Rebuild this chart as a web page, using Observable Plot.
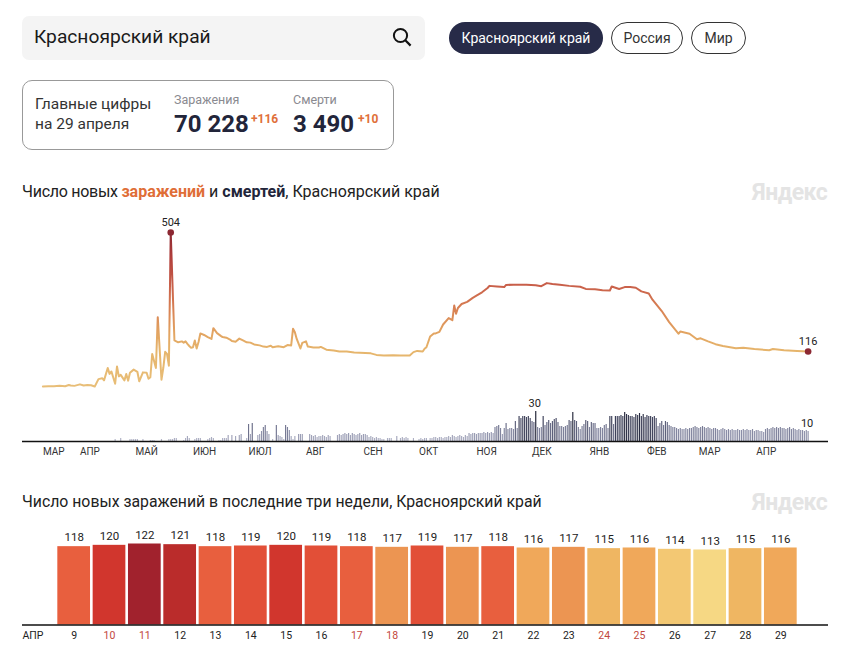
<!DOCTYPE html>
<html lang="ru">
<head>
<meta charset="utf-8">
<script src="https://cdn.jsdelivr.net/npm/d3@7"></script>
<script src="https://cdn.jsdelivr.net/npm/@observablehq/plot@0.6"></script>
<style>
html,body{margin:0;padding:0;background:#fff;}
body{width:861px;height:661px;position:relative;overflow:hidden;font-family:Roboto,"Open Sans",sans-serif;color:#222;}
.a{position:absolute;white-space:nowrap;line-height:1;}
.box{position:absolute;box-sizing:border-box;}
#chartA,#chartB,#chartC{position:absolute;left:0;}
svg{overflow:visible;}
</style>
</head>
<body>
<div class="box" style="left:22px;top:16px;width:403px;height:44px;background:#f4f4f4;border-radius:7px;"></div>
<div class="a" style="left:34px;top:27px;font-size:19.2px;color:#1a1a1a;">Красноярский край</div>
<svg class="box" style="left:392px;top:27px;" width="20" height="20" viewBox="0 0 20 20"><circle cx="8.5" cy="8.5" r="6.6" fill="none" stroke="#111" stroke-width="2"/><line x1="13.3" y1="13.3" x2="18.6" y2="18.6" stroke="#111" stroke-width="2.2"/></svg>

<div class="box" style="left:449px;top:22px;width:154px;height:32px;background:#272b48;border-radius:16px;color:#fff;font-size:14px;line-height:32px;text-align:center;">Красноярский край</div>
<div class="box" style="left:611px;top:22px;width:72px;height:32px;border:1px solid #333;border-radius:16px;color:#333;font-size:14px;line-height:30px;text-align:center;">Россия</div>
<div class="box" style="left:691px;top:22px;width:55px;height:32px;border:1px solid #333;border-radius:16px;color:#333;font-size:14px;line-height:30px;text-align:center;">Мир</div>

<div class="box" style="left:22px;top:80px;width:372px;height:70px;border:1px solid #999;border-radius:10px;"></div>
<div class="a" style="left:35px;top:97px;font-size:15.5px;color:#333;">Главные цифры</div>
<div class="a" style="left:35px;top:117px;font-size:15.5px;color:#333;">на 29 апреля</div>
<div class="a" style="left:174px;top:94px;font-size:12.5px;color:#8a8a90;">Заражения</div>
<div class="a" style="left:174px;top:112px;font-size:24px;font-weight:700;color:#22253a;">70 228</div>
<div class="a" style="left:251px;top:113px;font-size:12px;font-weight:700;color:#e0703a;">+116</div>
<div class="a" style="left:293px;top:94px;font-size:12.5px;color:#8a8a90;">Смерти</div>
<div class="a" style="left:293px;top:112px;font-size:24px;font-weight:700;color:#22253a;">3 490</div>
<div class="a" style="left:358px;top:113px;font-size:12px;font-weight:700;color:#e0703a;">+10</div>

<div class="a" style="left:22px;top:184px;font-size:16px;color:#222;"><span style="letter-spacing:-0.28px;">Число новых </span><b style="color:#df6e37;">заражений</b> и <b style="color:#22253a;">смертей</b>, Красноярский край</div>
<div class="a" style="left:752px;top:181px;font-size:23px;font-weight:700;color:#e4e4e4;letter-spacing:-0.5px;">Яндекс</div>
<div class="a" style="left:22px;top:494px;font-size:15.8px;color:#222;">Число новых заражений в последние три недели, Красноярский край</div>
<div class="a" style="left:752px;top:491px;font-size:23px;font-weight:700;color:#e4e4e4;letter-spacing:-0.5px;">Яндекс</div>

<div id="chartA" style="top:210px;"></div>
<div id="chartB" style="top:395px;"></div>
<div id="chartC" style="top:520px;"></div>

<script>
// Day offsets from 12 March 2020 and new infections
const caseDays = [0,3,6,9,12,14,15,17,20,22,24,26,28,30,32,33,35,36,37,39,40,41,42,44,45,46,47,49,51,52,54,56,57,58,59,61,62,64,65,66,67,68,69,70,71,72,73,75,76,77,78,79,80,81,82,83,84,85,87,89,91,92,94,96,97,99,101,102,104,106,108,110,112,114,117,119,121,123,124,127,130,132,134,135,136,137,139,140,142,143,146,149,150,153,157,160,164,168,171,177,180,184,189,193,198,200,202,205,206,207,209,211,212,214,216,219,221,222,223,224,226,229,232,234,237,240,241,245,249,250,254,261,266,269,272,275,279,284,290,293,298,302,306,307,311,314,317,320,323,327,329,334,338,343,344,349,353,355,359,363,367,374,378,384,392,394,400,407,413];
const caseValues = [2,3,3,4,3,7,5,4,9,5,7,6,2,26,29,22,62,43,51,11,67,35,40,22,43,21,47,57,50,19,48,47,27,32,108,62,228,24,63,115,108,70,504,326,152,149,146,149,145,149,141,134,128,130,152,126,147,175,170,163,157,192,176,167,163,161,155,150,148,158,152,146,145,139,136,132,131,135,130,133,130,137,136,190,179,157,126,144,149,132,129,129,131,122,119,116,116,113,112,110,105,103,104,103,103,114,118,116,125,130,165,175,175,180,204,225,218,266,239,258,271,278,291,298,309,323,330,328,326,333,334,334,332,329,339,336,334,330,327,320,319,316,315,328,320,326,326,324,312,305,285,248,212,174,181,174,156,159,149,140,134,127,128,124,120,124,120,118,116];
// New deaths per day from 12 March 2020
const deathValues = [
0,0,0,0,0,0,0,0,0,0, 0,0,0,0,0,0,0,0,0,0, 0,0,0,0,0,0,0,0,0,0,
0,0,0,0,0,0,0,0,0,2, 0,0,3,0,0,0,0,2,2,2, 2,2,0,0,2,0,0,0,1,1,
1,0,0,0,2,0,0,0,2,2, 2,3,3,0,0,0,1,3,5,3, 0,0,2,3,3,3,0,0,0,2,
3,4,3,0,0,1,1,3,3,3, 6,0,6,0,5,0,6,7,0,0, 3,17,7,18,0,0,6,7,10,14,
16,10,7,0,2,0,16,6,5,4, 2,16,14,11,5,2,5,0,7,7, 7,0,0,0,7,6,5,6,4,5,
5,6,5,4,6,5,0,0,0,6, 7,6,7,8,7,8,6,8,7,6, 7,8,6,7,7,6,4,5,4,3,
4,3,3,2,2,0,3,3,3,0, 0,5,0,3,4,3,4,3,0,0, 3,0,0,2,3,2,3,3,0,3,
3,4,4,3,4,4,3,4,4,5, 4,6,5,4,5,6,5,4,6,5, 8,7,8,8,7,8,8,8,9,8,
9,8,9,8,14,15,16,13,7,13, 18,12,13,13,12,20,13,25,23,25, 25,24,25,23,20,19,30,14,13,14,
25,16,19,21,18,20,22,23,19,15, 15,14,15,16,21,20,29,21,20,14, 12,15,17,21,20,14,19,18,18,13,
13,14,13,16,17,13,25,25,17,25, 25,25,26,25,29,27,26,25,25,24, 27,26,28,25,27,24,26,25,25,24,
25,23,15,18,20,16,20,19,16,15, 14,14,13,12,13,12,12,13,12,13, 13,14,15,14,13,14,15,14,13,14,
13,12,13,13,12,11,12,13,12,11, 12,11,12,11,11,12,11,11,12,11, 12,11,11,12,10,11,11,10,10,9,
12,13,12,13,14,13,14,13,14,13, 13,12,13,14,12,13,12,11,12,11, 11,10,11,10];
// Month labels and their dates
const monthLabels = ["МАР","АПР","МАЙ","ИЮН","ИЮЛ","АВГ","СЕН","ОКТ","НОЯ","ДЕК","ЯНВ","ФЕВ","МАР","АПР"];
const monthDates = ["2020-03-12","2020-04-01","2020-05-01","2020-06-01","2020-07-01","2020-08-01","2020-09-01","2020-10-01","2020-11-01","2020-12-01","2021-01-01","2021-02-01","2021-03-01","2021-04-01"];
// Last three weeks
const recentDays = [9,10,11,12,13,14,15,16,17,18,19,20,21,22,23,24,25,26,27,28,29];
const recentValues = [118,120,122,121,118,119,120,119,118,117,119,117,118,116,117,115,116,114,113,115,116];
const weekendDays = [10,11,17,18,24,25];

const start = new Date("2020-03-12");
const dayDate = i => d3.utcDay.offset(start, i);
const cases = caseDays.map((d,i)=>({date:dayDate(d), v:caseValues[i]}));
const deaths = deathValues.map((v,i)=>({date:dayDate(i), v}));
const xDomain = [new Date("2020-03-01"), new Date("2021-05-10")];
const lastCase = cases[cases.length-1];
const peak = cases.find(d=>d.v===504);
const recent = recentDays.map((d,i)=>({d, v:recentValues[i]}));
const font = "Roboto, 'Open Sans', sans-serif";

const gradStops = [[0,"#e8be78"],[116,"#e6b56c"],[180,"#e2a361"],[250,"#d98354"],[330,"#c9604a"],[420,"#b2403c"],[504,"#8c2832"]];
const gradientDefs = (index, {y}) => {
  const ns = "http://www.w3.org/2000/svg";
  const defs = document.createElementNS(ns,"defs");
  const g = document.createElementNS(ns,"linearGradient");
  g.setAttribute("id","caseGradient");
  g.setAttribute("gradientUnits","userSpaceOnUse");
  g.setAttribute("x1",0); g.setAttribute("x2",0);
  g.setAttribute("y1",y(0)); g.setAttribute("y2",y(504));
  gradStops.forEach(([v,c])=>{
    const s = document.createElementNS(ns,"stop");
    s.setAttribute("offset",v/504); s.setAttribute("stop-color",c);
    g.appendChild(s);
  });
  defs.appendChild(g);
  return defs;
};

const chartA = Plot.plot({
  width:861, height:190, marginLeft:22, marginRight:33, marginTop:22, marginBottom:13.4,
  style:{background:"transparent",fontFamily:font},
  x:{type:"utc",domain:xDomain,axis:null},
  y:{domain:[0,504],axis:null},
  marks:[
    gradientDefs,
    Plot.line(cases,{x:"date",y:"v",stroke:"url(#caseGradient)",strokeWidth:2,curve:"linear"}),
    Plot.dot([peak,lastCase],{x:"date",y:"v",r:3.3,fill:"#8c2832"}),
    Plot.text([peak,lastCase],{x:"date",y:"v",text:d=>String(d.v),dy:-10,fontSize:11,fill:"#222",stroke:"#fff",strokeWidth:2})
  ]
});
document.getElementById("chartA").appendChild(chartA);

const chartB = Plot.plot({
  width:861, height:65, marginLeft:22, marginRight:33, marginTop:16, marginBottom:19,
  style:{background:"transparent",fontFamily:font},
  x:{type:"utc",domain:xDomain,axis:null},
  y:{domain:[0,30],axis:null},
  color:{type:"linear",domain:[1,10,18,25,30],range:["#b7b9cb","#8f92ab","#6a6d88","#3c3f58","#1d2033"]},
  marks:[
    Plot.ruleX(deaths.filter(d=>d.v>0),{x:"date",y:"v",stroke:"v",strokeWidth:1.15}),
    Plot.ruleY([0],{stroke:"#111",strokeWidth:1.4}),
    Plot.axisX({ticks:monthDates.map(d=>new Date(d)),tickFormat:(d,i)=>monthLabels[i],tickSize:0,tickPadding:6,textAnchor:"start",fontSize:10,fill:"#333",label:null}),
    Plot.text(deaths.filter((d,i)=>i===266||i===413),{x:"date",y:"v",text:d=>String(d.v),dy:-8,dx:-1,fontSize:11,fill:"#222"})
  ]
});
document.getElementById("chartB").appendChild(chartB);

const chartC = Plot.plot({
  width:861, height:130, marginLeft:22, marginRight:33, marginTop:15, marginBottom:25.5,
  style:{background:"transparent",fontFamily:font},
  x:{type:"band",domain:recentDays,range:[54.7,799.3],padding:0.074,align:0.5,round:false,axis:null},
  y:{domain:[0,122],range:[104.5,23.5],axis:null},
  color:{type:"linear",domain:[113,114,115,116,117,118,119,120,121,122],range:["#f6d884","#f3c873","#efb662","#f0a85a","#ec9552","#e85f3e","#e24f37","#d1362d","#ba2c2b","#a1222d"]},
  marks:[
    Plot.barY(recent,{x:"d",y:"v",fill:"v"}),
    Plot.ruleY([0],{stroke:"#111",strokeWidth:1.4}),
    Plot.text(recent,{x:"d",y:"v",text:d=>String(d.v),dy:-9,fontSize:11.5,fill:"#222"}),
    Plot.text(recent,{filter:d=>!weekendDays.includes(d.d),x:"d",text:d=>String(d.d),frameAnchor:"bottom",dy:14,fontSize:10.5,fill:"#222"}),
    Plot.text(recent,{filter:d=>weekendDays.includes(d.d),x:"d",text:d=>String(d.d),frameAnchor:"bottom",dy:14,fontSize:10.5,fill:"#c2473c"}),
    Plot.text(["АПР"],{frameAnchor:"bottom-left",textAnchor:"start",text:d=>d,dy:14,fontSize:10.5,fill:"#222"})
  ]
});
document.getElementById("chartC").appendChild(chartC);
</script>
</body>
</html>
